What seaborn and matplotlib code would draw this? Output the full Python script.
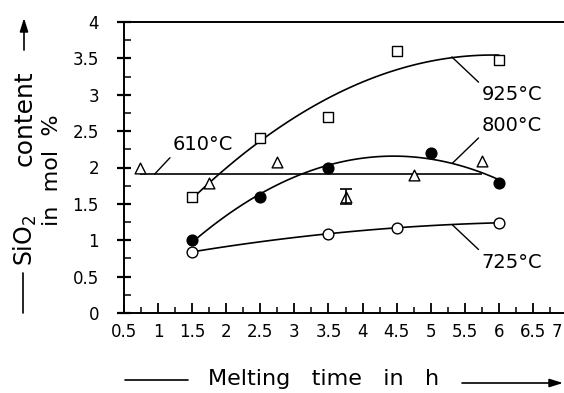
import numpy as np
import matplotlib
matplotlib.use("Agg")
import matplotlib.pyplot as plt
import matplotlib.transforms as mtransforms
from matplotlib.ticker import MultipleLocator, FixedLocator, FixedFormatter
import seaborn as sns

# ---- data ----
time_925 = [1.5, 2.5, 3.5, 4.5, 6.0]
sio2_925 = [1.60, 2.40, 2.70, 3.60, 3.48]

time_800 = [1.5, 2.5, 3.5, 5.0, 6.0]
sio2_800 = [1.00, 1.60, 2.00, 2.20, 1.79]

time_725 = [1.5, 3.5, 4.5, 6.0]
sio2_725 = [0.84, 1.09, 1.17, 1.24]

time_610 = [0.73, 1.75, 2.75, 3.75, 4.75, 5.75]
sio2_610 = [1.99, 1.79, 2.08, 1.60, 1.90, 2.09]
err_610_x = [3.75]
err_610_y = [1.60]
err_610_e = [0.10]

x_ticks = [0.5, 1, 1.5, 2, 2.5, 3, 3.5, 4, 4.5, 5, 5.5, 6, 6.5, 7]
x_ticklabels = ["0.5", "1", "1.5", "2", "2.5", "3", "3.5", "4", "4.5", "5", "5.5", "6", "6.5", "7"]
y_ticks = [0, 0.5, 1, 1.5, 2, 2.5, 3, 3.5, 4]
y_ticklabels = ["0", "0.5", "1", "1.5", "2", "2.5", "3", "3.5", "4"]

sns.set_style("ticks")
plt.rcParams["font.family"] = ["DejaVu Sans"]
plt.rcParams["text.color"] = "black"
plt.rcParams["xtick.color"] = "black"
plt.rcParams["ytick.color"] = "black"
plt.rcParams["axes.edgecolor"] = "black"
plt.rcParams["axes.labelcolor"] = "black"

W, H = 564, 393
fig = plt.figure(figsize=(W / 100, H / 100), dpi=100)
ax = fig.add_axes([124 / W, 80 / H, (567 - 124) / W, 291 / H])

lw_line = 1.2
ms = 60

# 925 °C - open squares + quadratic fit
sns.regplot(x=time_925, y=sio2_925, order=2, ci=None, ax=ax, color="k", marker="s",
            scatter_kws=dict(s=ms, facecolors="white", edgecolors="k", linewidths=1.0, alpha=1, zorder=3),
            line_kws=dict(lw=lw_line, color="k"))
# 800 °C - filled circles
sns.regplot(x=time_800, y=sio2_800, order=2, ci=None, ax=ax, color="k", marker="o",
            scatter_kws=dict(s=ms, facecolors="k", edgecolors="k", linewidths=1.0, alpha=1, zorder=3),
            line_kws=dict(lw=lw_line, color="k"))
# 725 °C - open circles
sns.regplot(x=time_725, y=sio2_725, order=2, ci=None, ax=ax, color="k", marker="o",
            scatter_kws=dict(s=ms, facecolors="white", edgecolors="k", linewidths=1.0, alpha=1, zorder=3),
            line_kws=dict(lw=lw_line, color="k"))
# 610 °C - open triangles + mean line
ax.hlines(np.mean(sio2_610), min(time_610), max(time_610), color="k", lw=lw_line, zorder=2)
sns.scatterplot(x=time_610, y=sio2_610, ax=ax, marker="^", s=ms, facecolor="white",
                edgecolor="k", linewidth=1.0, zorder=3)
ax.errorbar(err_610_x, err_610_y, yerr=err_610_e, fmt="none", ecolor="k",
            elinewidth=1.2, capsize=4, capthick=1.2, zorder=4)

ax.set_xlim(0.5, 7.0)
ax.set_ylim(0, 4)
ax.xaxis.set_major_locator(FixedLocator(x_ticks))
ax.xaxis.set_major_formatter(FixedFormatter(x_ticklabels))
ax.yaxis.set_major_locator(FixedLocator(y_ticks))
ax.yaxis.set_major_formatter(FixedFormatter(y_ticklabels))
ax.xaxis.set_minor_locator(MultipleLocator(0.25))
ax.yaxis.set_minor_locator(MultipleLocator(0.25))

ax.tick_params(axis="x", which="major", direction="in", length=7, width=1.3, pad=7, labelsize=12)
ax.tick_params(axis="x", which="minor", direction="in", length=4, width=1.1)
ax.tick_params(axis="y", which="major", direction="inout", length=10, width=1.6, pad=13, labelsize=12)
ax.tick_params(axis="y", which="minor", direction="in", length=5, width=1.1)

# pull the last x tick label ("7") inside the picture, as in the reference
fig.canvas.draw()
last = ax.get_xticklabels()[-1]
last.set_transform(last.get_transform() + mtransforms.ScaledTranslation(-10 / 100, 0, fig.dpi_scale_trans))

for side in ["left", "bottom", "top"]:
    ax.spines[side].set_visible(True)
    ax.spines[side].set_linewidth(1.4)
ax.spines["right"].set_visible(False)
ax.set_xlabel("")
ax.set_ylabel("")

# curve labels with leader lines
lab_fs = 14
ann = dict(arrowstyle="-", color="k", lw=1.0, shrinkA=0, shrinkB=0)
ax.annotate("610°C", xy=(0.95, 1.91), xytext=(1.22, 2.31), ha="left", va="center",
            fontsize=lab_fs, arrowprops=dict(ann, relpos=(0, 0)))
ax.annotate("925°C", xy=(5.31, 3.52), xytext=(5.75, 3.0), ha="left", va="center",
            fontsize=lab_fs, arrowprops=dict(ann, relpos=(0, 1)), annotation_clip=False)
ax.annotate("800°C", xy=(5.32, 2.06), xytext=(5.75, 2.58), ha="left", va="center",
            fontsize=lab_fs, arrowprops=dict(ann, relpos=(0, 0)), annotation_clip=False)
ax.annotate("725°C", xy=(5.32, 1.21), xytext=(5.75, 0.70), ha="left", va="center",
            fontsize=lab_fs, arrowprops=dict(ann, relpos=(0, 1)), annotation_clip=False)

# axis titles (figure pixel coords, origin bottom-left)
lbl_fs = 16
fig.text(324 / W, (H - 379) / H, "Melting   time   in   h", ha="center", va="center", fontsize=lbl_fs)
fig.add_artist(plt.Line2D([125 / W, 188 / W], [(H - 380) / H] * 2, color="k", lw=1.2))
ax.annotate("", xy=(563, H - 383), xytext=(462, H - 383), xycoords="figure pixels",
            textcoords="figure pixels",
            arrowprops=dict(arrowstyle="-|>,head_length=0.8,head_width=0.25", color="k", lw=1.2,
                            shrinkA=0, shrinkB=0), annotation_clip=False)

fig.text(25 / W, (H - 240) / H, "SiO$_2$", rotation=90, ha="center", va="center", fontsize=17)
fig.text(25 / W, (H - 118) / H, "content", rotation=90, ha="center", va="center", fontsize=18)
fig.text(52 / W, (H - 170) / H, "in  mol  %", rotation=90, ha="center", va="center", fontsize=16)
fig.add_artist(plt.Line2D([23 / W] * 2, [(H - 313) / H, (H - 273) / H], color="k", lw=1.2))
ax.annotate("", xy=(24, H - 18), xytext=(24, H - 50), xycoords="figure pixels",
            textcoords="figure pixels",
            arrowprops=dict(arrowstyle="-|>,head_length=0.8,head_width=0.25", color="k", lw=1.2,
                            shrinkA=0, shrinkB=0), annotation_clip=False)

fig.savefig("out.png", dpi=100)
